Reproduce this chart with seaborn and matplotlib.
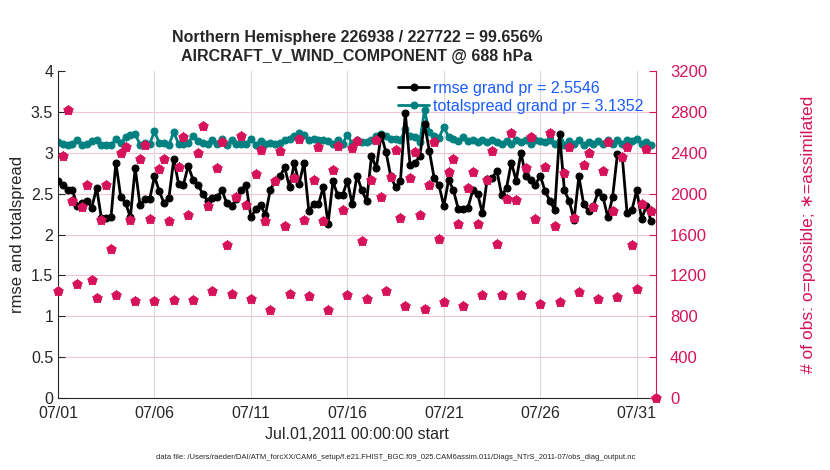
import matplotlib
matplotlib.use("Agg")
import matplotlib.pyplot as plt
import matplotlib.dates as mdates
import seaborn as sns
import numpy as np
import pandas as pd

# 6-hourly bins, 07/01 00Z .. 07/31 18Z
rmse = [2.65, 2.60, 2.54, 2.54,
        2.35, 2.39, 2.41, 2.33, 2.57, 2.20, 2.20, 2.22, 2.88, 2.46, 2.39, 2.21, 2.81, 2.36,
        2.43, 2.43, 2.71, 2.53, 2.38, 2.45, 2.92, 2.62, 2.61, 2.84, 2.67, 2.61, 2.50, 2.41,
        2.45, 2.46, 2.54, 2.38, 2.35, 2.43, 2.54, 2.61, 2.21, 2.31, 2.36, 2.24, 2.54, 2.66,
        2.71, 2.82, 2.58, 2.87, 2.62, 2.88, 2.29, 2.37, 2.37, 2.58, 2.13, 2.65, 2.48, 2.48,
        2.66, 2.37, 2.72,
        2.54, 2.41, 2.96, 2.81, 3.22, 3.01, 2.71, 2.58, 2.65, 3.49, 2.85, 2.87, 2.96, 3.35,
        3.02, 2.69, 2.60, 2.35, 2.67, 2.54, 2.31, 2.31, 2.33, 2.54, 2.50, 2.26, 2.68, 2.69,
        2.78, 2.48, 2.57,
        2.88, 2.66, 3.00, 2.71, 2.67, 2.61, 2.72, 2.53, 2.41, 2.30, 3.23, 2.54, 2.41, 2.18,
        2.71, 2.37, 2.29, 2.35, 2.52, 2.46, 2.21, 2.46, 2.99, 2.95, 2.26, 2.30, 2.54, 2.19,
        2.35, 2.16]

totalspread = [3.13, 3.11, 3.10, 3.11, 3.15, 3.09, 3.11, 3.14, 3.15, 3.10, 3.10, 3.09, 3.17,
               3.12, 3.19, 3.22, 3.23, 3.10, 3.12, 3.11, 3.26, 3.12, 3.12, 3.10, 3.25, 3.11,
               3.11, 3.12, 3.21, 3.14, 3.12, 3.11,
               3.15, 3.11, 3.17, 3.10, 3.15, 3.11, 3.11, 3.11, 3.17, 3.10, 3.14, 3.11, 3.12,
               3.11, 3.12, 3.15, 3.17, 3.21, 3.24, 3.22, 3.15, 3.17, 3.15, 3.15, 3.14, 3.11,
               3.15, 3.11, 3.22, 3.11, 3.15,
               3.13, 3.13, 3.15, 3.20, 3.23, 3.21, 3.17, 3.17, 3.15, 3.29, 3.20, 3.19, 3.13,
               3.52, 3.25, 3.21, 3.18, 3.32, 3.19, 3.17, 3.14, 3.19, 3.14, 3.15, 3.13, 3.15,
               3.13, 3.15, 3.13, 3.11, 3.14,
               3.11, 3.15, 3.13, 3.15, 3.11, 3.15, 3.14, 3.13, 3.15, 3.11, 3.14, 3.09, 3.14,
               3.11, 3.15, 3.09, 3.13, 3.11, 3.14, 3.11, 3.15, 3.11, 3.15, 3.11, 3.15, 3.14,
               3.17, 3.11, 3.13, 3.09]

# obs counts, last bin (08/01 00Z) is empty
obs_possible = [1048, 2371, 2819, 1929, 1119, 1866, 2088, 1158, 984, 1743, 2088, 1454, 1008,
                2393, 2452, 1746, 946, 2338, 2474, 1749, 946, 2240, 2338, 1736, 963, 2263,
                2556, 1792, 963, 2393, 2657, 1883,
                1044, 2250, 2510, 1493, 1015, 1971, 2566, 1890, 973, 2192, 2426, 1737, 858,
                2120, 2413, 1688, 1015, 2152, 2533, 1743, 1000, 2133, 2459, 1737, 865, 2234,
                2468, 1844, 1005, 2445, 2517, 1541,
                967, 2133, 2523, 1971, 1044, 2166, 2426, 1759, 898, 2152, 2403, 1795, 875,
                2088, 2510, 1558, 940, 2215, 2338, 1704, 898, 2055, 2215, 1704, 1005, 2133,
                2413, 1509, 1005, 1948,
                2590, 1938, 1005, 2250, 2556, 1753, 924, 2263, 2590, 1688, 940, 2198, 2459,
                1763, 1037, 2283, 2397, 1873, 973, 2218, 2507, 1828, 989, 2354, 2452, 1493,
                1070, 1899, 2436, 1828, 0]
# 99.7% assimilated: indistinguishable from possible at this scale
obs_assimilated = obs_possible

tick_days = ["2011-07-01", "2011-07-06", "2011-07-11", "2011-07-16",
             "2011-07-21", "2011-07-26", "2011-07-31"]

rmse_label = "rmse grand pr = 2.5546"
spread_label = "totalspread grand pr = 3.1352"
title_text = ("Northern Hemisphere 226938 / 227722 = 99.656%\n"
              "AIRCRAFT_V_WIND_COMPONENT @ 688 hPa")
data_file = ("data file: /Users/raeder/DAI/ATM_forcXX/CAM6_setup/f.e21.FHIST_BGC.f09_025."
             "CAM6assim.011/Diags_NTrS_2011-07/obs_diag_output.nc")

times = pd.date_range("2011-07-01", periods=len(rmse), freq="6h")
obs_times = pd.date_range("2011-07-01", periods=len(obs_possible), freq="6h")

sns.set_style("white")
plt.rcParams["font.family"] = ["Liberation Sans", "DejaVu Sans"]

MAGENTA = "#d6135a"
TEAL = "#008080"
BLUE = "#1a5cff"
DARK = "#262626"

fig = plt.figure(figsize=(8.3, 4.7), dpi=100)
ax = fig.add_axes([0.0699, 0.153, 0.7205, 0.696])

# pink horizontal grid (from the right axis in the original)
for v in np.arange(0.5, 4.0, 0.5):
    ax.axhline(v, color="#f2c4d6", lw=0.8, zorder=0)

sns.lineplot(x=times, y=rmse, ax=ax, color="black", lw=2, marker="o", ms=5,
             mec="black", label=rmse_label, zorder=3)
sns.lineplot(x=times, y=totalspread, ax=ax, color=TEAL, lw=2, marker="o", ms=5,
             mec=TEAL, label=spread_label, zorder=2)

ax.set_xlim(pd.Timestamp("2011-07-01"), pd.Timestamp("2011-08-01"))
ax.set_ylim(0, 4)
ax.set_yticks(np.arange(0, 4.01, 0.5))
ax.set_yticklabels(["0", "0.5", "1", "1.5", "2", "2.5", "3", "3.5", "4"])
ax.set_xticks(pd.to_datetime(tick_days))
ax.xaxis.set_major_formatter(mdates.DateFormatter("%m/%d"))
ax.grid(axis="x", color="#d9d9d9", lw=0.8)
ax.set_axisbelow(True)
ax.tick_params(direction="in", length=5, labelsize=11.5, colors=DARK)
ax.tick_params(axis="x", pad=6)
for s in ["top", "right"]:
    ax.spines[s].set_visible(False)
for s in ["left", "bottom"]:
    ax.spines[s].set_color(DARK)
ax.set_ylabel("rmse and totalspread", fontsize=12, labelpad=4, color=DARK)
ax.set_xlabel("Jul.01,2011 00:00:00 start", fontsize=11.5, labelpad=4, color=DARK)
ax.set_title(title_text, fontsize=11.5, fontweight="bold", linespacing=1.35, pad=7)

leg = ax.legend(loc="upper left", bbox_to_anchor=(0.558, 0.99), frameon=False,
                fontsize=11.5, handlelength=1.95, handletextpad=0.25, labelspacing=0.2,
                borderaxespad=0)
for t in leg.get_texts():
    t.set_color(BLUE)

ax2 = ax.twinx()
sns.scatterplot(x=obs_times, y=obs_possible, ax=ax2, color=MAGENTA, marker="o", s=36,
                edgecolor=MAGENTA, linewidth=0.6, clip_on=False, zorder=4)
sns.scatterplot(x=obs_times, y=obs_assimilated, ax=ax2, color=MAGENTA, marker="*", s=55,
                edgecolor=MAGENTA, linewidth=0.8, clip_on=False, zorder=5)
ax2.set_ylim(0, 3200)
ax2.set_yticks(np.arange(0, 3201, 400))
ax2.set_xlim(pd.Timestamp("2011-07-01"), pd.Timestamp("2011-08-01"))
ax2.tick_params(axis="y", direction="in", length=5, labelsize=12, colors=MAGENTA, pad=10)
for s in ["top", "left", "bottom"]:
    ax2.spines[s].set_visible(False)
ax2.spines["right"].set_color(MAGENTA)
ax2.set_ylabel("# of obs: o=possible; \u2217=assimilated", fontsize=12.5, color=MAGENTA,
               labelpad=68)

fig.text(0.477, 0.026, data_file, fontsize=5.5, ha="center", va="center")

fig.savefig("out.png", dpi=100)
